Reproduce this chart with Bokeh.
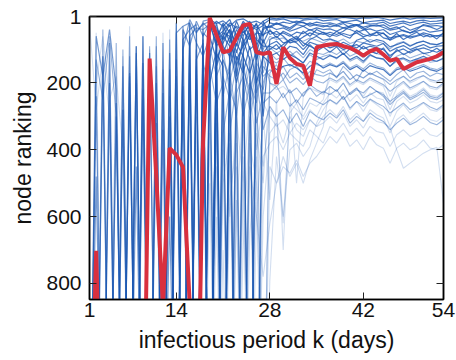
from bokeh.plotting import figure
from bokeh.models import Range1d, FixedTicker, LinearAxis
from bokeh.embed import file_html
from bokeh.resources import INLINE

# rank value used where a node falls far below the plotted range
O = 1500

k = list(range(1, 55))  # infectious period (days)

# highlighted node (red)
red = [O, 702, O, O, O, O, O, O, O,
       127, 480, 870, 395, 415, 452, 860, O, 380,
       5, 56, 108, 103, 65, 28, 23, 108, 113,
       108, 203, 93, 125, 143, 148, 208, 93, 88,
       85, 83, 90, 95, 105, 118, 105, 98, 115,
       133, 128, 158, 148, 138, 133, 128, 120, 108]

# strongly shaded nodes
d1 = [O, O, O, O, 260, O, 180, O, 140,
      O, O, O, O, 50, 30, 20, O, 15,
      10, 22, 14, 30, 12, 8, 20, 15, 25,
      10, 12, 8, 15, 20, 12, 10, 8, 14,
      12, 10, 18, 15, 12, 20, 16, 14, 12,
      22, 18, 15, 20, 14, 12, 16, 15, 12]
d2 = [O, O, 180, O, O, O, O, 90, O,
      O, O, 230, O, O, 70, 40, 25, O,
      O, 60, 45, 20, 35, 50, 30, 40, 28,
      35, 22, 30, 40, 25, 30, 20, 28, 32,
      25, 30, 22, 35, 28, 40, 30, 26, 34,
      42, 38, 30, 42, 35, 28, 32, 40, 30]
d3 = [O, O, O, 200, O, O, O, O, O,
      110, O, O, O, 20, O, 60, 35, 40,
      25, 80, 50, 60, 30, 45, 70, 50, 55,
      45, 55, 50, 60, 48, 52, 40, 50, 55,
      48, 55, 45, 30, 25, 35, 55, 48, 52,
      65, 60, 55, 62, 58, 50, 55, 60, 52]
d4 = [O, O, O, O, O, 150, O, 450, O,
      O, 320, O, O, O, O, 90, O, 70,
      O, 40, 90, 120, 60, 30, 100, 80, 300,
      70, 60, 80, 75, 65, 90, 70, 60, 72,
      68, 75, 90, 100, 72, 65, 78, 70, 75,
      92, 85, 78, 90, 80, 75, 82, 85, 78]
d5 = [O, 240, O, O, O, O, 170, O, O,
      O, O, O, 110, O, O, O, 45, 25,
      15, 35, 70, 40, 90, 20, 60, 110, 40,
      30, 40, 35, 45, 38, 30, 42, 35, 40,
      38, 45, 35, 40, 48, 42, 38, 45, 40,
      55, 48, 42, 50, 45, 40, 48, 45, 42]
d6 = [O, O, O, O, O, 280, O, O, 220,
      O, O, O, 160, O, 30, O, O, O,
      130, 20, 110, 60, 150, 80, 40, 70, 90,
      90, 100, 85, 70, 60, 80, 90, 100, 85,
      95, 88, 100, 92, 85, 98, 90, 95, 100,
      118, 105, 98, 110, 100, 95, 102, 108, 98]
d7 = [O, O, O, O, 300, O, O, O, O,
      O, 200, O, O, O, 100, 10, 50, 20,
      40, 15, 30, 10, 60, 15, 40, 25, 60,
      20, 25, 18, 22, 15, 20, 25, 18, 22,
      20, 25, 18, 22, 28, 20, 24, 22, 18,
      30, 25, 20, 28, 22, 18, 24, 22, 20]
d8 = [O, O, O, 80, O, O, O, 110, O,
      O, O, 340, O, O, O, O, 130, 80,
      O, 150, 60, 90, 200, 110, 50, 130, 70,
      120, 110, 130, 115, 125, 140, 110, 120, 130,
      118, 125, 112, 130, 120, 135, 115, 125, 128,
      150, 130, 125, 135, 128, 120, 130, 135, 125]
d9 = [O, 480, O, O, O, O, O, O, O,
      O, O, 80, O, 130, O, O, O, 50,
      70, O, 25, 80, 15, 60, 20, 35, 15,
      55, 45, 60, 80, 75, 62, 50, 58, 48,
      55, 60, 52, 58, 50, 62, 55, 58, 50,
      72, 62, 58, 66, 60, 55, 62, 58, 60]
d10 = [O, O, 120, O, O, O, O, O, O,
       O, O, O, O, O, 210, O, 100, O,
       200, 100, O, 150, 80, 120, 170, 100, 110,
       85, 75, 95, 70, 80, 100, 78, 85, 90,
       82, 90, 78, 88, 95, 80, 85, 90, 82,
       105, 95, 88, 100, 92, 85, 95, 90, 88]
d11 = [O, O, O, O, O, O, O, O, 60,
       O, O, O, O, 180, O, O, O, O,
       O, 110, 150, O, 120, 170, 90, 200, 120,
       140, 160, 150, 145, 155, 170, 150, 140, 155,
       145, 152, 140, 160, 150, 165, 148, 155, 160,
       178, 160, 155, 165, 158, 150, 160, 165, 155]
d12 = [O, 60, 180, 40, 220, O, O, O, O,
       O, O, O, O, O, O, 60, O, O,
       30, 50, O, 100, 40, 70, 130, O, 15,
       5, 8, 4, 6, 5, 8, 6, 4, 6,
       5, 7, 4, 6, 8, 5, 6, 4, 7,
       12, 8, 5, 9, 6, 5, 7, 6, 5]
d13 = [O, O, O, O, O, O, O, 90, O,
       O, O, O, O, O, 40, 90, 15, 60,
       20, 90, 60, 25, 110, 40, 15, 90, 35,
       30, 20, 28, 35, 22, 18, 30, 25, 28,
       32, 28, 35, 30, 25, 33, 28, 30, 26,
       38, 32, 45, 50, 40, 25, 30, 28, 32]
d14 = [O, O, O, O, O, O, O, O, O,
       O, O, O, 300, O, O, 20, 80, 120,
       60, 130, 80, 40, 180, 60, O, 40, 80,
       40, 65, 45, 55, 70, 45, 60, 40, 50,
       62, 45, 58, 66, 42, 55, 60, 48, 65,
       70, 52, 70, 58, 48, 62, 55, 68, 50]
d15 = [O, O, O, O, O, O, O, O, O,
       O, O, O, 600, O, O, O, O, 100,
       O, 70, 20, 50, 130, 90, 60, 20, 120,
       100, 85, 110, 90, 95, 115, 85, 105, 92,
       108, 92, 115, 98, 110, 90, 105, 112, 95,
       125, 100, 115, 105, 98, 112, 108, 96, 110]

# medium shaded nodes
m1 = [O, 130, 250, 60, 300, O, 200, O, O,
      90, O, O, O, O, 120, O, 150, O,
      90, 180, 130, 200, 100, 160, 220, 140, 180,
      160, 175, 150, 185, 170, 190, 165, 175, 180,
      170, 182, 165, 190, 175, 185, 170, 180, 188,
      205, 190, 180, 195, 185, 178, 190, 195, 185]
m2 = [O, O, 40, O, O, 100, O, O, 250,
      O, O, O, 70, O, O, O, O, 140,
      220, O, 180, 250, 150, 300, 200, 260, 120,
      200, 210, 190, 230, 215, 240, 205, 220, 230,
      210, 225, 200, 235, 220, 230, 210, 225, 235,
      255, 240, 225, 245, 235, 220, 240, 245, 230]
m3 = [O, O, O, O, 80, O, O, O, O,
      O, 150, O, O, 20, O, 130, O, 90,
      O, 240, O, 170, 300, 130, O, 180, 220,
      110, 130, 120, 105, 125, 140, 115, 130, 120,
      115, 128, 110, 135, 125, 140, 118, 125, 130,
      150, 135, 128, 140, 130, 125, 138, 135, 128]
m4 = [O, O, O, O, O, O, 60, O, O,
      O, O, O, 240, O, O, O, 80, O,
      150, 260, 200, O, 230, 180, 280, 150, 260,
      240, 260, 230, 270, 250, 280, 245, 255, 265,
      250, 262, 240, 275, 255, 270, 248, 260, 270,
      290, 275, 260, 280, 270, 258, 272, 280, 265]
m5 = [O, O, O, O, O, O, O, O, 60,
      O, O, O, O, O, 250, O, O, 200,
      O, 60, 240, 140, O, 220, 120, 230, 150,
      180, 190, 170, 200, 185, 205, 180, 195, 200,
      185, 195, 180, 205, 190, 200, 185, 195, 205,
      225, 210, 195, 215, 205, 195, 210, 215, 200]
m6 = [O, O, O, O, O, O, O, O, O,
      O, O, O, O, O, O, 170, O, O,
      O, 280, O, 350, 200, O, 310, 190, 340,
      270, 300, 280, 320, 290, 330, 285, 300, 310,
      290, 305, 280, 320, 300, 315, 290, 305, 315,
      340, 320, 305, 325, 315, 300, 318, 325, 310]
m7 = [O, O, O, O, O, O, O, 200, O,
      O, O, O, O, O, O, O, O, O,
      110, 60, 30, 130, 50, 90, 30, 60, 100,
      60, 70, 65, 80, 70, 75, 65, 72, 80,
      70, 78, 68, 82, 75, 80, 70, 76, 82,
      98, 82, 76, 88, 80, 74, 84, 86, 78]
m8 = [O, O, O, O, O, O, O, O, O,
      O, 60, O, O, O, O, O, O, 280,
      O, O, 130, 180, O, 250, 150, O, 200,
      130, 140, 125, 150, 140, 160, 135, 145, 150,
      140, 150, 135, 155, 145, 158, 140, 150, 155,
      175, 155, 148, 160, 152, 145, 155, 160, 150]
m9 = [O, O, O, O, O, 280, O, O, O,
      O, O, O, O, O, O, O, O, O,
      O, 200, O, 60, O, 120, O, 80, 170,
      95, 110, 100, 120, 105, 125, 100, 110, 115,
      105, 115, 100, 120, 110, 125, 105, 112, 118,
      138, 120, 112, 125, 118, 110, 120, 125, 115]
m10 = [O, O, O, O, O, O, 120, O, O,
       O, O, 160, O, O, O, O, O, 40,
       O, 150, 100, 230, O, 140, 250, 110, O,
       170, 145, 190, 160, 150, 175, 200, 160, 170,
       160, 185, 150, 170, 195, 160, 175, 165, 180,
       195, 175, 160, 185, 170, 165, 180, 170, 175]
m11 = [O, O, O, 250, O, O, O, O, O,
       O, 90, O, O, O, O, O, 160, O,
       O, O, 350, 220, 280, O, 180, 320, 230,
       230, 210, 245, 220, 260, 230, 215, 240, 225,
       235, 220, 250, 230, 215, 245, 235, 225, 240,
       265, 245, 230, 250, 240, 228, 245, 250, 238]

# faintly shaded nodes
l1 = [20, 280, 120, 300, O, O, O, O, 350,
      O, O, O, O, O, O, O, O, O,
      O, O, 400, O, 300, 500, 250, O, 600,
      350, 320, 380, 300, 340, 360, 310, 330, 300,
      280, 300, 270, 310, 290, 315, 280, 295, 305,
      350, 310, 295, 320, 305, 290, 310, 315, 300]
l2 = [O, 50, O, O, O, 120, O, O, O,
      O, O, O, 40, O, O, O, O, O,
      O, 320, O, O, 450, O, 380, 500, O,
      790, 420, 600, 400, 380, 420, 390, 320, 280,
      250, 265, 240, 280, 255, 285, 250, 265, 280,
      330, 285, 265, 290, 275, 260, 280, 285, 270]
l3 = [O, 200, 60, 250, 180, 400, O, O, O,
      O, O, O, O, O, 90, O, O, O,
      O, O, 500, 350, O, 420, O, 300, 450,
      280, 300, 620, 290, 260, 310, 280, 300, 260,
      230, 245, 220, 255, 235, 260, 230, 245, 250,
      300, 255, 240, 260, 250, 235, 255, 260, 250]
l4 = [O, O, O, O, O, O, O, O, O,
      100, O, O, O, O, O, 250, O, O,
      350, O, 250, 600, 300, O, 220, 400, 260,
      300, 330, 310, 350, 320, 340, 310, 330, 320,
      300, 320, 290, 330, 310, 335, 300, 315, 320,
      333, 400, 455, 440, 425, 410, 400, 392, 560]
l5 = [O, O, O, 100, O, O, O, O, O,
      O, O, O, O, 300, O, O, O, O,
      O, 450, O, 550, 380, O, 650, 420, O,
      450, 500, 420, 480, 440, 500, 430, 380, 330,
      210, 225, 200, 235, 215, 240, 210, 225, 230,
      280, 235, 220, 240, 230, 215, 235, 240, 228]
l6 = [O, 160, O, O, O, O, 30, O, O,
      O, O, O, O, O, O, O, 200, O,
      500, O, 300, O, 600, 250, O, 350, 500,
      200, 220, 210, 230, 500, 240, 215, 225, 235,
      190, 200, 185, 210, 195, 205, 190, 200, 210,
      260, 215, 200, 220, 210, 195, 215, 220, 205]
l7 = [O, O, O, O, O, O, O, 150, O,
      O, O, 50, O, O, O, O, O, O,
      O, 600, O, 380, O, 700, 300, O, 420,
      380, 360, 400, 350, 370, 390, 340, 360, 380,
      330, 345, 320, 355, 335, 360, 330, 345, 350,
      390, 355, 340, 360, 350, 335, 355, 360, 345]
l8 = [O, O, O, O, O, O, O, O, O,
      O, O, O, O, O, O, O, O, O,
      O, O, O, 200, O, 500, O, 600, 300,
      550, 250, 700, 260, 280, 300, 260, 270, 250,
      170, 180, 165, 190, 175, 185, 170, 180, 190,
      240, 195, 180, 200, 190, 178, 195, 200, 188]
l9 = [O, O, O, O, O, O, O, O, O,
      O, O, O, O, O, O, O, 300, O,
      O, O, 700, O, 550, O, 450, 600, 780,
      620, 500, 450, 470, 430, 480, 440, 420, 390,
      360, 380, 350, 390, 370, 400, 360, 385, 395,
      440, 395, 380, 400, 390, 370, 395, 400, 385]

light = [l1, l2, l3, l4, l5, l6, l7, l8, l9]
medium = [m1, m2, m3, m4, m5, m6, m7, m8, m9, m10, m11]
dark = [d1, d2, d3, d4, d5, d6, d7, d8, d9, d10, d11, d12, d13, d14, d15]

x_ticks = [1, 14, 28, 42, 54]
y_ticks = [1, 200, 400, 600, 800]

BLUE = "#1c58b2"
RED = "#d9303e"
FONT = "Liberation Sans"
INK = "#111111"
SPLIT = 18  # index of k = 19, where the ranking settles

p = figure(width=456, height=360, output_backend="svg", toolbar_location=None,
           x_range=Range1d(1, 54), y_range=Range1d(848, 1),
           min_border_left=89, min_border_right=13, min_border_top=16,
           min_border_bottom=61, background_fill_color="white",
           border_fill_color="white")
p.grid.visible = False
p.outline_line_color = "black"
p.outline_line_width = 1.5

for s in light:
    p.line(k, s, color=BLUE, alpha=0.2, line_width=1.1)
for s in medium:
    p.line(k, s, color=BLUE, alpha=0.45, line_width=1.1)
for s in dark:
    p.line(k[:SPLIT + 1], s[:SPLIT + 1], color=BLUE, alpha=0.6, line_width=1.2)
    p.line(k[SPLIT:], s[SPLIT:], color=BLUE, alpha=0.8, line_width=1.2)
p.line(k, red, color=RED, line_width=4)

bottom = p.below[0]
left = p.left[0]
top = LinearAxis()
right = LinearAxis()
p.add_layout(top, "above")
p.add_layout(right, "right")

bottom.ticker = FixedTicker(ticks=x_ticks)
top.ticker = FixedTicker(ticks=x_ticks)
left.ticker = FixedTicker(ticks=y_ticks)
right.ticker = FixedTicker(ticks=y_ticks)

for ax in [bottom, left, top, right]:
    ax.axis_line_color = "black"
    ax.axis_line_width = 1.5
    ax.major_tick_in = 7
    ax.major_tick_out = 0
    ax.minor_tick_in = 0
    ax.minor_tick_out = 0
    ax.major_tick_line_color = "#222222"
    ax.major_tick_line_width = 1
    ax.major_label_text_font = FONT
    ax.major_label_text_font_size = "21px"
    ax.major_label_text_color = INK

# frame-only axes on top and right: ticks, no labels
for ax in [top, right]:
    ax.major_label_text_font_size = "1px"
    ax.major_label_text_color = None
    ax.major_label_text_alpha = 0
    ax.major_label_standoff = 0

bottom.major_label_standoff = 3
left.major_label_standoff = 8

left.axis_label = "node ranking"
bottom.axis_label = "infectious period k (days)"
for ax in [left, bottom]:
    ax.axis_label_text_font = FONT
    ax.axis_label_text_font_size = "23px"
    ax.axis_label_text_font_style = "normal"
    ax.axis_label_text_color = INK
left.axis_label_standoff = 7
bottom.axis_label_standoff = 7

open("out.html", "w").write(file_html(p, INLINE))
